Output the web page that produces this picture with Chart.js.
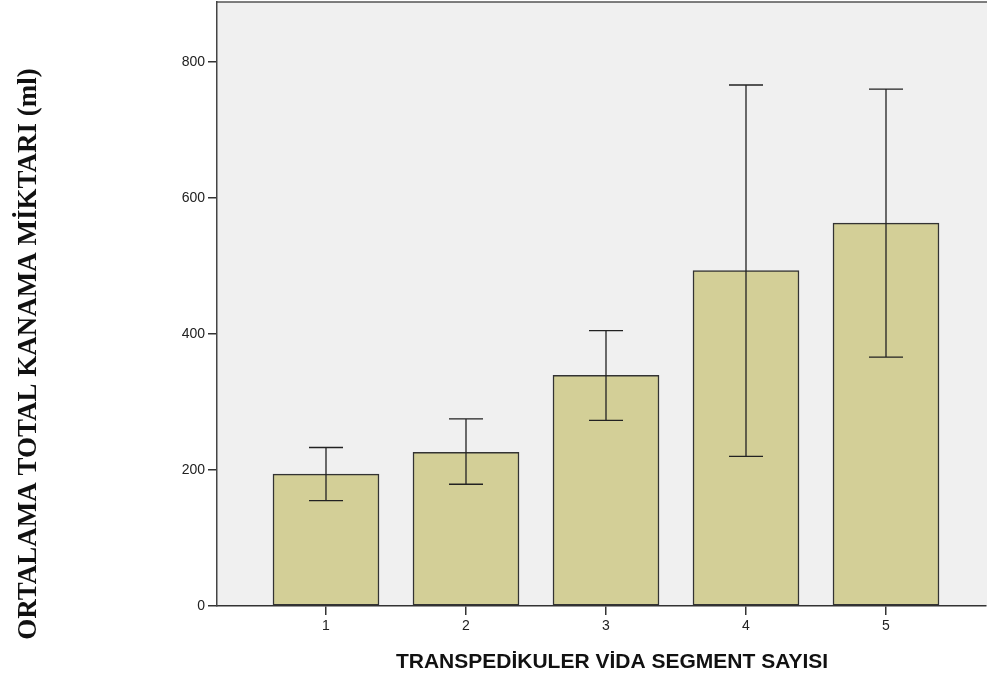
<!DOCTYPE html>
<html>
<head>
<meta charset="utf-8">
<script src="https://cdn.jsdelivr.net/npm/chart.js@4.4.1/dist/chart.umd.min.js"></script>
<style>
  html, body { margin: 0; padding: 0; background: #ffffff; }
  #wrap { width: 987px; height: 677px; position: relative; }
</style>
</head>
<body>
<div id="wrap"><canvas id="c" width="987" height="677"></canvas></div>
<script>
// ---- data ----
const categories = [1, 2, 3, 4, 5];
const meanValues = [194, 226, 339, 493, 563];
const errorLower = [155, 179, 273, 220, 366];
const errorUpper = [233, 275, 405, 766, 760];
const yTicks = [0, 200, 400, 600, 800];
const xTitle = 'TRANSPEDİKULER VİDA SEGMENT SAYISI';
const yTitle = 'ORTALAMA TOTAL KANAMA MİKTARI (ml)';

const plotBg = {
  id: 'plotBg',
  beforeDraw(chart) {
    const { ctx, chartArea: a } = chart;
    ctx.save();
    ctx.fillStyle = '#f0f0f0';
    ctx.fillRect(a.left, a.top, a.right - a.left + 5, a.bottom - a.top);
    ctx.strokeStyle = '#555555';
    ctx.lineWidth = 1.5;
    ctx.beginPath();
    ctx.moveTo(a.left, a.top);
    ctx.lineTo(a.right + 5, a.top);
    ctx.stroke();
    ctx.restore();
  }
};

const errorBars = {
  id: 'errorBars',
  afterDatasetsDraw(chart) {
    const { ctx } = chart;
    const xs = chart.scales.x, ys = chart.scales.y;
    ctx.save();
    ctx.strokeStyle = '#222222';
    ctx.lineWidth = 1.3;
    categories.forEach((c, i) => {
      const x = xs.getPixelForValue(c);
      const yl = ys.getPixelForValue(errorLower[i]);
      const yu = ys.getPixelForValue(errorUpper[i]);
      const hw = 17;
      ctx.beginPath();
      ctx.moveTo(x, yl); ctx.lineTo(x, yu);
      ctx.moveTo(x - hw, yl); ctx.lineTo(x + hw, yl);
      ctx.moveTo(x - hw, yu); ctx.lineTo(x + hw, yu);
      ctx.stroke();
    });
    ctx.restore();
  }
};

const titles = {
  id: 'titles',
  afterDraw(chart) {
    const { ctx } = chart;
    ctx.save();
    ctx.fillStyle = '#111111';
    ctx.textAlign = 'center';
    ctx.textBaseline = 'alphabetic';
    ctx.font = 'bold 21px "Liberation Sans", Arial, sans-serif';
    ctx.fillText(xTitle, 612, 668);
    ctx.translate(36, 354);
    ctx.rotate(-Math.PI / 2);
    ctx.font = 'bold 27px "Liberation Serif", "Times New Roman", serif';
    ctx.fillText(yTitle, 0, 0);
    ctx.restore();
  }
};

new Chart(document.getElementById('c'), {
  type: 'bar',
  data: {
    datasets: [{
      data: categories.map((c, i) => ({ x: c, y: meanValues[i] })),
      backgroundColor: '#d3cf97',
      borderColor: '#333333',
      borderWidth: 1.5,
      borderSkipped: false,
      barThickness: 106
    }]
  },
  options: {
    responsive: false,
    animation: false,
    layout: { padding: { top: 2, right: 1, left: 0, bottom: 0 } },
    plugins: { legend: { display: false }, tooltip: { enabled: false } },
    scales: {
      x: {
        type: 'linear',
        offset: false,
        min: 1 - 109 / 140,
        max: 5 + 100 / 140,
        afterBuildTicks(scale) { scale.ticks = categories.map(v => ({ value: v })); },
        afterFit(scale) { scale.height = 71; scale.paddingLeft = 0; scale.paddingRight = 0; },
        ticks: {
          callback: v => String(v),
          color: '#222222',
          font: { family: '"Liberation Sans", Arial, sans-serif', size: 14 },
          padding: 3,
          maxRotation: 0
        },
        grid: { offset: false, drawOnChartArea: false, drawTicks: true, tickLength: 9, color: '#333333', lineWidth: 1.5 },
        border: { display: true, color: '#333333', width: 1.5 }
      },
      y: {
        min: 0,
        max: 888,
        afterBuildTicks(scale) { scale.ticks = yTicks.map(v => ({ value: v })); },
        afterFit(scale) { scale.width = 217; scale.paddingTop = 0; scale.paddingBottom = 0; },
        ticks: {
          color: '#222222',
          font: { family: '"Liberation Sans", Arial, sans-serif', size: 14 },
          padding: 3
        },
        grid: { drawOnChartArea: false, drawTicks: true, tickLength: 9, color: '#333333', lineWidth: 1.5 },
        border: { display: true, color: '#444444', width: 1.5 }
      }
    }
  },
  plugins: [plotBg, errorBars, titles]
});
</script>
</body>
</html>
